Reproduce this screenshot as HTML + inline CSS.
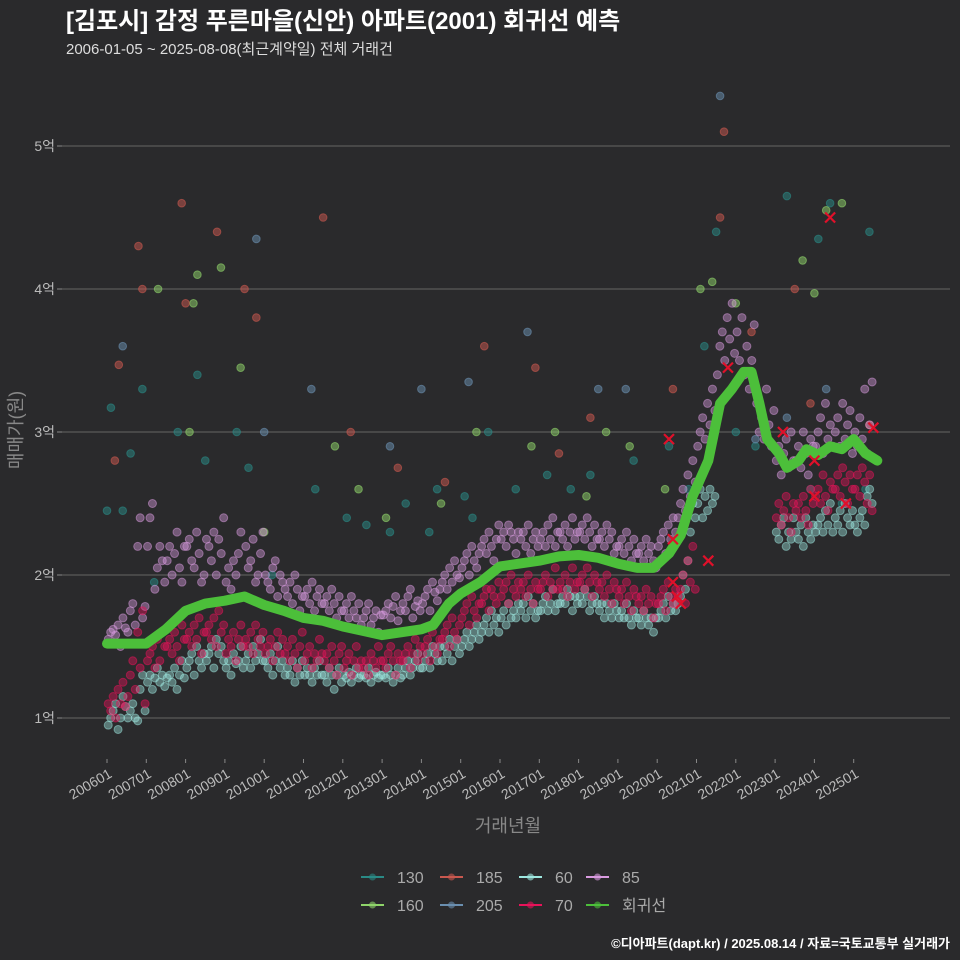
<!DOCTYPE html>
<html><head><meta charset="utf-8">
<style>
html,body{margin:0;padding:0;background:#2a2a2c;}
svg{display:block;font-family:"Liberation Sans","Noto Sans CJK KR",sans-serif;}
</style></head>
<body>
<svg id="chart" width="960" height="960" viewBox="0 0 960 960">
<rect width="960" height="960" fill="#2a2a2c"/>
<text x="66" y="29" fill="#ffffff" font-size="24" font-weight="bold">[김포시] 감정 푸른마을(신안) 아파트(2001) 회귀선 예측</text>
<text x="66" y="54" fill="#dddddd" font-size="15">2006-01-05 ~ 2025-08-08(최근계약일) 전체 거래건</text>
<g id="grid"></g>
<g id="points"></g>
<g id="reg"></g>
<g id="xmarks"></g>
<g id="axes"></g>
<text transform="translate(22,430) rotate(-90)" text-anchor="middle" fill="#888" font-size="18">매매가(원)</text>
<text x="508" y="832" text-anchor="middle" fill="#888" font-size="18">거래년월</text>
<g id="legend"></g>
<text x="950" y="948" text-anchor="end" fill="#ffffff" font-size="13" font-weight="bold">©디아파트(dapt.kr) / 2025.08.14 / 자료=국토교통부 실거래가</text>
</svg>
<script>
const yTicks=[1,2,3,4,5];
const yTickLabels=["1억","2억","3억","4억","5억"];
const xTickYears=[2006,2007,2008,2009,2010,2011,2012,2013,2014,2015,2016,2017,2018,2019,2020,2021,2022,2023,2024,2025];
const xTickLabels=["200601","200701","200801","200901","201001","201101","201201","201301","201401","201501","201601","201701","201801","201901","202001","202101","202201","202301","202401","202501"];
const series85=[
[2006.0,1.55,1.6,1.62,1.58,1.65,1.5,1.7,1.63],[2006.5,1.6,1.75,1.8,1.65,2.2,2.4,1.7,1.78],
[2007.0,2.2,2.4,2.5,1.9,2.05,2.2,2.1,1.95],[2007.5,2.1,2.2,2.0,2.15,2.3,2.05,1.95,2.2],
[2008.0,2.2,2.25,2.1,2.05,2.3,2.15,1.95,2.0],[2008.5,2.25,2.2,2.1,2.3,2.0,2.25,2.15,2.4],
[2009.0,1.95,2.05,1.9,2.1,2.0,2.15,2.3,1.85],[2009.5,2.2,2.05,2.1,2.25,1.95,2.0,2.15,2.3],
[2010.0,2.0,1.95,1.9,2.05,2.1,1.85,2.0,1.95],[2010.5,1.9,1.85,1.95,1.8,2.0,1.9,1.75,1.85],
[2011.0,1.85,1.9,1.8,1.95,1.75,1.85,1.9,1.8],[2011.5,1.8,1.85,1.75,1.9,1.8,1.7,1.85,1.75],
[2012.0,1.75,1.8,1.7,1.85,1.75,1.7,1.8,1.65],[2012.5,1.7,1.75,1.8,1.65,1.7,1.75,1.6,1.72],
[2013.0,1.72,1.75,1.8,1.7,1.78,1.85,1.68,1.75],[2013.5,1.8,1.75,1.85,1.9,1.7,1.78,1.82,1.75],
[2014.0,1.8,1.85,1.9,1.75,1.95,1.88,1.82,1.9],[2014.5,1.95,2.0,1.9,2.05,1.95,2.1,2.0,1.98],
[2015.0,2.05,2.1,2.15,2.0,2.2,2.1,2.05,2.15],[2015.5,2.2,2.25,2.15,2.3,2.2,2.1,2.25,2.35],
[2016.0,2.25,2.3,2.2,2.35,2.3,2.25,2.15,2.3],[2016.5,2.25,2.3,2.2,2.35,2.15,2.25,2.3,2.2],
[2017.0,2.25,2.3,2.2,2.35,2.25,2.4,2.2,2.3],[2017.5,2.3,2.25,2.35,2.2,2.3,2.4,2.25,2.3],
[2018.0,2.3,2.35,2.25,2.4,2.3,2.2,2.35,2.25],[2018.5,2.25,2.3,2.2,2.35,2.25,2.3,2.15,2.2],
[2019.0,2.2,2.25,2.15,2.3,2.2,2.1,2.25,2.15],[2019.5,2.15,2.2,2.1,2.25,2.15,2.2,2.1,2.05],
[2020.0,2.2,2.25,2.3,2.15,2.35,2.25,2.4,2.3],[2020.5,2.4,2.5,2.6,2.45,2.7,2.55,2.8,2.65],
[2021.0,2.9,3.0,3.1,2.95,3.2,3.05,3.3,3.15],[2021.5,3.4,3.6,3.7,3.5,3.8,3.65,3.9,3.55],
[2022.0,3.7,3.5,3.8,3.4,3.6,3.3,3.5,3.75],[2022.5,3.2,3.0,3.1,2.95,3.3,3.05,2.9,3.15],
[2023.0,2.8,2.9,2.7,2.85,2.95,2.75,3.0,2.8],[2023.5,2.8,2.9,2.75,3.0,2.85,2.7,2.95,2.9],
[2024.0,2.9,3.0,3.1,2.85,3.2,2.95,3.05,2.9],[2024.5,3.0,3.1,2.9,3.2,2.95,3.05,3.15,2.85],
[2025.0,3.0,2.9,3.1,2.95,3.3,2.85,3.05,3.35]];
const series70=[
[2006.0,1.1,1.05,1.15,1.0,1.2,1.1,1.25,1.08],[2006.5,1.15,1.3,1.4,1.2,1.6,1.35,1.75,1.1],
[2007.0,1.4,1.45,1.5,1.35,1.55,1.4,1.6,1.5],[2007.5,1.5,1.55,1.45,1.6,1.5,1.4,1.65,1.55],
[2008.0,1.55,1.6,1.5,1.65,1.55,1.7,1.45,1.6],[2008.5,1.6,1.65,1.55,1.7,1.5,1.75,1.6,1.65],
[2009.0,1.45,1.55,1.5,1.6,1.4,1.55,1.65,1.5],[2009.5,1.55,1.5,1.6,1.45,1.65,1.55,1.5,1.6],
[2010.0,1.45,1.5,1.55,1.4,1.5,1.6,1.45,1.55],[2010.5,1.45,1.5,1.4,1.55,1.45,1.35,1.5,1.6],
[2011.0,1.4,1.45,1.5,1.35,1.45,1.4,1.55,1.45],[2011.5,1.4,1.45,1.35,1.5,1.4,1.3,1.45,1.5],
[2012.0,1.35,1.4,1.45,1.3,1.4,1.5,1.35,1.4],[2012.5,1.35,1.4,1.3,1.45,1.4,1.35,1.5,1.4],
[2013.0,1.4,1.35,1.45,1.5,1.4,1.3,1.45,1.4],[2013.5,1.4,1.45,1.5,1.35,1.45,1.55,1.4,1.5],
[2014.0,1.45,1.5,1.55,1.4,1.6,1.5,1.45,1.55],[2014.5,1.55,1.6,1.65,1.5,1.7,1.6,1.55,1.65],
[2015.0,1.7,1.75,1.8,1.65,1.85,1.75,1.7,1.8],[2015.5,1.8,1.85,1.9,1.75,1.9,1.85,1.8,1.95],
[2016.0,1.85,1.9,1.95,1.8,2.0,1.9,1.85,1.95],[2016.5,1.9,1.95,1.85,2.0,1.9,1.8,1.95,1.9],
[2017.0,1.9,1.95,2.0,1.85,1.95,1.9,2.05,1.9],[2017.5,1.95,1.9,2.0,1.85,1.95,2.05,1.9,1.95],
[2018.0,1.95,2.0,1.9,2.05,1.95,1.85,2.0,1.95],[2018.5,1.9,1.95,1.85,2.0,1.9,1.8,1.95,1.9],
[2019.0,1.85,1.9,1.8,1.95,1.85,1.75,1.9,1.85],[2019.5,1.8,1.85,1.75,1.9,1.8,1.85,1.7,1.8],
[2020.0,1.8,1.85,1.9,1.75,1.95,1.85,1.8,1.9],[2020.5,1.85,1.9,2.0,1.8,2.1,1.95,2.2,1.9],
[2023.0,2.4,2.5,2.35,2.45,2.55,2.4,2.3,2.5],[2023.5,2.45,2.5,2.4,2.55,2.45,2.35,2.6,2.5],
[2024.0,2.55,2.6,2.5,2.7,2.55,2.45,2.65,2.6],[2024.5,2.6,2.7,2.55,2.75,2.65,2.5,2.7,2.6],
[2025.0,2.6,2.7,2.55,2.75,2.65,2.5,2.7,2.45]];
const series60=[
[2006.0,0.95,1.0,1.05,1.1,0.92,1.0,1.15,1.08],[2006.5,1.0,1.05,1.1,1.0,0.98,1.2,1.3,1.05],
[2007.0,1.25,1.3,1.2,1.28,1.35,1.25,1.3,1.22],[2007.5,1.28,1.3,1.25,1.35,1.2,1.3,1.4,1.28],
[2008.0,1.35,1.4,1.45,1.3,1.5,1.4,1.35,1.45],[2008.5,1.4,1.45,1.5,1.35,1.55,1.45,1.5,1.4],
[2009.0,1.35,1.4,1.3,1.45,1.38,1.4,1.5,1.35],[2009.5,1.4,1.45,1.35,1.5,1.4,1.45,1.55,1.4],
[2010.0,1.4,1.35,1.45,1.3,1.4,1.5,1.35,1.4],[2010.5,1.3,1.35,1.3,1.4,1.25,1.35,1.3,1.4],
[2011.0,1.3,1.35,1.3,1.25,1.35,1.3,1.4,1.3],[2011.5,1.3,1.25,1.35,1.3,1.2,1.3,1.35,1.25],
[2012.0,1.3,1.28,1.32,1.25,1.3,1.35,1.28,1.3],[2012.5,1.3,1.28,1.35,1.25,1.3,1.32,1.28,1.3],
[2013.0,1.3,1.28,1.35,1.3,1.25,1.3,1.35,1.28],[2013.5,1.3,1.35,1.4,1.3,1.35,1.4,1.45,1.35],
[2014.0,1.35,1.4,1.45,1.35,1.5,1.45,1.4,1.5],[2014.5,1.4,1.5,1.45,1.55,1.4,1.5,1.55,1.45],
[2015.0,1.5,1.55,1.6,1.5,1.55,1.6,1.65,1.55],[2015.5,1.6,1.65,1.7,1.6,1.75,1.65,1.7,1.6],
[2016.0,1.7,1.75,1.65,1.8,1.7,1.75,1.7,1.8],[2016.5,1.75,1.8,1.7,1.85,1.75,1.8,1.7,1.75],
[2017.0,1.75,1.8,1.85,1.75,1.8,1.9,1.75,1.8],[2017.5,1.8,1.85,1.8,1.9,1.85,1.75,1.85,1.8],
[2018.0,1.85,1.8,1.9,1.85,1.75,1.8,1.85,1.8],[2018.5,1.75,1.8,1.7,1.8,1.75,1.7,1.8,1.75],
[2019.0,1.7,1.75,1.7,1.8,1.7,1.65,1.75,1.7],[2019.5,1.7,1.65,1.75,1.7,1.65,1.7,1.6,1.7],
[2020.0,1.7,1.75,1.8,1.7,1.85,1.75,1.8,1.75],[2020.5,1.8,1.85,2.0,1.9,2.1,2.3,2.5,2.4],
[2021.0,2.5,2.6,2.4,2.55,2.45,2.6,2.5,2.55],
[2023.0,2.3,2.25,2.35,2.4,2.2,2.3,2.25,2.4],[2023.5,2.3,2.25,2.35,2.2,2.4,2.3,2.25,2.35],
[2024.0,2.3,2.35,2.4,2.3,2.45,2.35,2.5,2.3],[2024.5,2.4,2.35,2.45,2.3,2.5,2.4,2.35,2.45],
[2025.0,2.35,2.3,2.4,2.45,2.35,2.55,2.6,2.5]];
const series130=[[2006.0,2.45],[2006.1,3.17],[2006.4,2.45],[2006.6,2.85],[2006.9,3.3],[2007.2,1.95],[2007.8,3.0],[2008.3,3.4],[2008.5,2.8],[2009.3,3.0],[2009.6,2.75],[2010.2,2.0],[2011.3,2.6],[2012.1,2.4],[2012.6,2.35],[2013.2,2.3],[2013.6,2.5],[2014.2,2.3],[2014.4,2.6],[2015.1,2.55],[2015.3,2.4],[2015.7,3.0],[2016.4,2.6],[2017.2,2.7],[2017.8,2.6],[2018.3,2.7],[2019.4,2.8],[2020.3,2.9],[2020.8,2.6],[2021.2,3.6],[2021.5,4.4],[2022.0,3.0],[2022.5,2.9],[2023.3,4.65],[2024.1,4.35],[2024.4,4.6],[2025.4,4.4],[2023.9,2.6],[2024.7,2.5],[2025.3,2.6]];
const series160=[[2007.3,4.0],[2008.1,3.0],[2008.2,3.9],[2008.3,4.1],[2008.9,4.15],[2009.4,3.45],[2010.0,2.3],[2011.8,2.9],[2012.4,2.6],[2013.1,2.4],[2014.5,2.5],[2015.4,3.0],[2016.8,2.9],[2017.4,3.0],[2018.2,2.55],[2018.7,3.0],[2019.3,2.9],[2020.2,2.6],[2021.1,4.0],[2021.4,4.05],[2022.0,3.9],[2023.7,4.2],[2024.3,4.55],[2024.7,4.6],[2024.0,3.97]];
const series185=[[2006.2,2.8],[2006.3,3.47],[2006.8,4.3],[2006.9,4.0],[2007.9,4.6],[2008.0,3.9],[2008.8,4.4],[2009.5,4.0],[2009.8,3.8],[2011.5,4.5],[2012.2,3.0],[2013.4,2.75],[2014.6,2.65],[2015.6,3.6],[2016.9,3.45],[2017.5,2.85],[2018.3,3.1],[2020.4,3.3],[2021.7,5.1],[2021.6,4.5],[2022.4,3.7],[2023.5,4.0],[2023.9,3.2],[2025.4,3.05]];
const series205=[[2006.4,3.6],[2009.8,4.35],[2010.0,3.0],[2011.2,3.3],[2013.2,2.9],[2014.0,3.3],[2015.2,3.35],[2016.7,3.7],[2018.5,3.3],[2019.2,3.3],[2021.6,5.35],[2022.5,2.95],[2023.3,3.1],[2024.3,3.3]];
const regYears=[2006.0,2007.0,2007.5,2008.0,2008.5,2009.0,2009.5,2010.0,2010.5,2011.0,2011.5,2012.0,2012.5,2013.0,2013.5,2014.0,2014.3,2014.7,2015.0,2015.5,2016.0,2016.5,2017.0,2017.5,2018.0,2018.5,2019.0,2019.5,2019.9,2020.3,2020.6,2020.9,2021.3,2021.6,2021.9,2022.2,2022.4,2022.6,2022.8,2023.1,2023.3,2023.6,2023.8,2024.1,2024.4,2024.7,2025.0,2025.3,2025.6];
const regValues=[1.52,1.52,1.62,1.75,1.8,1.82,1.85,1.79,1.75,1.7,1.68,1.64,1.61,1.58,1.6,1.62,1.65,1.8,1.87,1.95,2.06,2.08,2.1,2.13,2.14,2.12,2.08,2.05,2.05,2.15,2.28,2.55,2.8,3.2,3.3,3.42,3.42,3.2,2.95,2.85,2.75,2.8,2.88,2.84,2.9,2.88,2.95,2.85,2.8];
const markerYears=[2020.3,2020.4,2020.5,2020.6,2020.4,2021.3,2021.8,2023.2,2024.0,2024.0,2024.4,2024.8,2025.5];
const markerValues=[2.95,2.25,1.85,1.8,1.95,2.1,3.45,3.0,2.8,2.55,4.5,2.5,3.03];

const NS="http://www.w3.org/2000/svg";
function X(yr){return 107+(yr-2006)*39.3;}
function Y(v){return 718-(v-1)*143;}
function mk(tag,attrs,parent){const e=document.createElementNS(NS,tag);for(const k in attrs)e.setAttribute(k,attrs[k]);parent.appendChild(e);return e;}
const grid=document.getElementById('grid'),axes=document.getElementById('axes');
yTicks.forEach((t,i)=>{
  const l=mk('line',{x1:62,x2:950,y1:Y(t),y2:Y(t),stroke:'#5a5a5a','stroke-width':1.2},grid);
  
  
  const tk=mk('line',{x1:57,x2:62,y1:Y(t),y2:Y(t),stroke:'#888','stroke-width':1},axes);
  
  
  const tx=mk('text',{x:55,y:Y(t)+5,'text-anchor':'end',fill:'#bbb','font-size':14},axes);
  tx.textContent=yTickLabels[i];
  
  
});
xTickYears.forEach((yr,i)=>{
  const x=X(yr);
  const tk=mk('line',{x1:x,x2:x,y1:759,y2:763,stroke:'#888','stroke-width':1},axes);
  
  
  const tx=mk('text',{transform:`translate(${x+1},${768}) rotate(-30)`,'text-anchor':'end',fill:'#bbb','font-size':14,dy:'0.7em'},axes);
  tx.textContent=xTickLabels[i];
  
  
});
const pts=document.getElementById('points');
function drawPair(arr,fill,name){
  arr.forEach(p=>{
    const c=mk('circle',{cx:X(p[0]),cy:Y(p[1]),r:3.8,fill:fill,'fill-opacity':0.5,stroke:fill,'stroke-opacity':0.6,'stroke-width':1},pts);
    
    
  });
}
function drawRows(rows,fill,name){
  rows.forEach(r=>{
    const n=r.length-1;
    for(let i=1;i<=n;i++){
      const yr=r[0]+(i-0.5)/n*0.5;
      const c=mk('circle',{cx:X(yr),cy:Y(r[i]),r:4,fill:fill,'fill-opacity':0.42,stroke:fill,'stroke-opacity':0.5,'stroke-width':1},pts);
      
      
    }
  });
}
drawPair(series130,'#2a8a86','point-130');
drawPair(series160,'#8fd46a','point-160');
drawPair(series185,'#c9584f','point-185');
drawPair(series205,'#6a8fb0','point-205');
drawRows(series85,'#d99be0','point-85');
drawRows(series60,'#9ee8e0','point-60');
drawRows(series70,'#e8135a','point-70');
const reg=document.getElementById('reg');
let d='';regYears.forEach((yr,i)=>{d+=(i?'L':'M')+X(yr).toFixed(1)+','+Y(regValues[i]).toFixed(1);});
const rp=mk('path',{d:d,fill:'none',stroke:'#4cbf3a','stroke-width':10,'stroke-linejoin':'round','stroke-linecap':'round'},reg);


const xm=document.getElementById('xmarks');
markerYears.forEach((yr,i)=>{
  const x=X(yr),y=Y(markerValues[i]);
  const p=mk('path',{d:`M${x-5},${y-5}L${x+5},${y+5}M${x+5},${y-5}L${x-5},${y+5}`,stroke:'#e0102a','stroke-width':2.2},xm);
  
  
});
const legendItems=[["130","#2a8a86",361,877],["185","#c9584f",440,877],["60","#9ee8e0",519,877],["85","#d99be0",586,877],["160","#8fd46a",361,905],["205","#6a8fb0",440,905],["70","#e8135a",519,905],["회귀선","#4cbf3a",586,905]];
const lg=document.getElementById('legend');
legendItems.forEach(it=>{
  const g=mk('g',{},lg);
  
  
  mk('line',{x1:it[2],x2:it[2]+23,y1:it[3],y2:it[3],stroke:it[1],'stroke-width':2},g);
  mk('circle',{cx:it[2]+11.5,cy:it[3],r:3.5,fill:it[1],'fill-opacity':0.6},g);
  const t=mk('text',{x:it[2]+36,y:it[3]+6,fill:'#aaa','font-size':16},g);
  t.textContent=it[0];
});
</script>
</body></html>
